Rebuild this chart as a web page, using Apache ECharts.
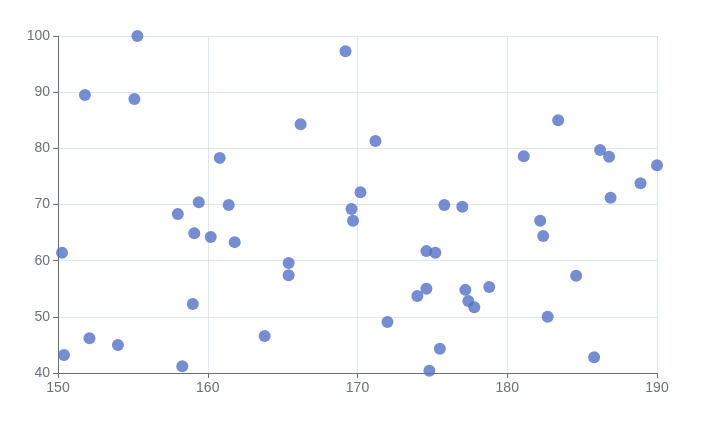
<!DOCTYPE html>
<html><head><meta charset="utf-8">
<script src="https://cdn.jsdelivr.net/npm/echarts@6/dist/echarts.min.js"></script>
<style>html,body{margin:0;padding:0;}#c{width:725px;height:437px;}</style>
</head><body><div id="c"></div>
<script>
const xValues=[150.27,150.4,151.8,152.1,154.0,155.1,155.3,158.0,158.3,159.0,159.1,159.4,160.2,160.8,161.4,161.8,163.8,165.4,165.4,166.2,169.2,169.6,169.7,170.2,171.2,172.0,174.0,174.6,174.6,174.8,175.2,175.5,175.8,177.0,177.2,177.4,177.8,178.8,181.1,182.2,182.4,182.7,183.4,184.6,185.8,186.2,186.8,186.9,188.9,190.0];
const yValues=[61.4,43.2,89.5,46.2,45.0,88.8,100,68.3,41.2,52.3,64.9,70.4,64.2,78.3,69.9,63.3,46.6,59.6,57.4,84.3,97.3,69.2,67.1,72.2,81.3,49.1,53.7,55.0,61.7,40.4,61.4,44.3,69.9,69.6,54.8,52.8,51.7,55.3,78.6,67.1,64.4,50.0,85.0,57.3,42.8,79.7,78.5,71.2,73.8,77.0];
const data=xValues.map((x,i)=>[x,yValues[i]]);
const axisCommon={axisLine:{show:true,lineStyle:{color:'#6E7079'}},axisTick:{show:true},axisLabel:{color:'#6E7079',fontSize:14},splitLine:{show:true,lineStyle:{color:'#E0E6F1'}}};
echarts.init(document.getElementById('c')).setOption({
  animation:false,
  grid:{left:58,right:68,top:36,bottom:64},
  xAxis:Object.assign({type:'value',min:150,max:190,interval:10},axisCommon),
  yAxis:Object.assign({type:'value',min:40,max:100,interval:10},axisCommon),
  series:[{type:'scatter',symbolSize:12,data:data,itemStyle:{color:'#5470c6'}}]
});
</script></body></html>
